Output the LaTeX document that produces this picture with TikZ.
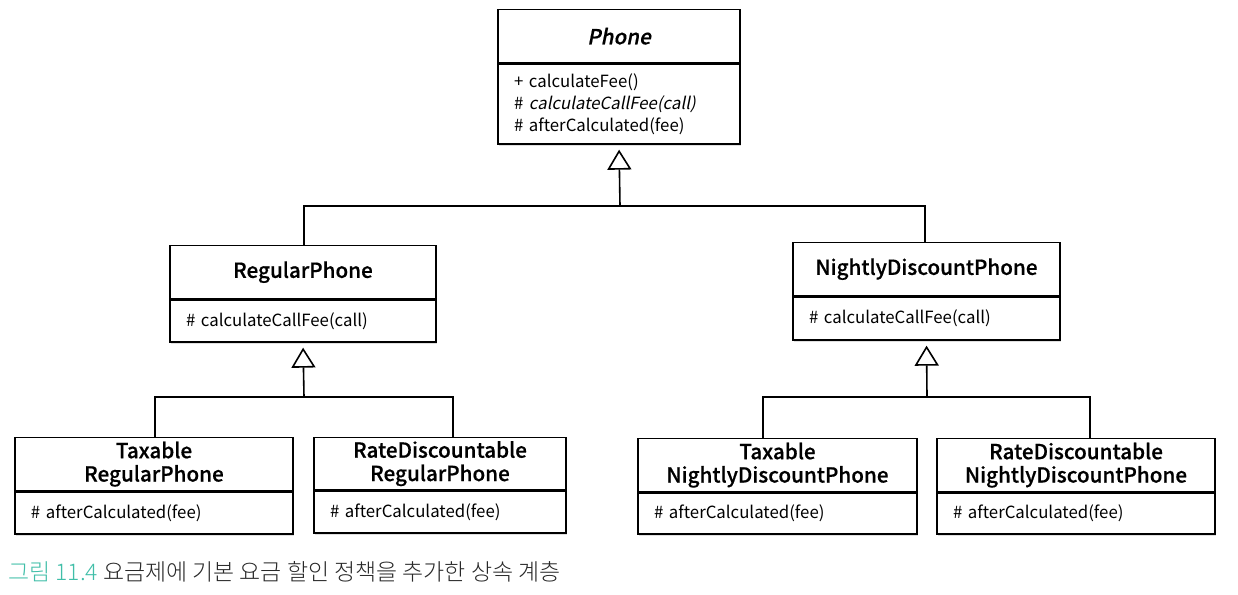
\documentclass[tikz,border=0pt]{standalone}
\usepackage{fontspec}
\setmainfont{Noto Sans CJK KR}[BoldFont={Noto Sans CJK KR Medium}, BoldFeatures={FakeBold=0.6}, ItalicFont={Noto Sans CJK KR}, ItalicFeatures={FakeSlant=0.2}, BoldItalicFont={Noto Sans CJK KR Medium}, BoldItalicFeatures={FakeSlant=0.2, FakeBold=0.6}]
\newfontfamily\capfont{Noto Sans CJK KR Light}
\usetikzlibrary{arrows.meta,shadows}
\definecolor{capteal}{RGB}{64,190,168}
\definecolor{captext}{RGB}{40,40,40}
\tikzset{
  clsbox/.style={draw=black, line width=1pt, fill=white, inner sep=0pt,
    drop shadow={shadow xshift=0.6pt, shadow yshift=-1.4pt, opacity=0.25}},
  clstitle/.style={clsbox, align=center, font=\fontsize{15.5}{17.5}\selectfont\bfseries},
  clsbody/.style={clsbox, align=left, font=\fontsize{12.6}{16.5}\selectfont, inner xsep=12pt},
  inhline/.style={line width=1.2pt, draw=black},
  inharrow/.style={inhline, -{Triangle[open, width=18pt, length=15pt, line width=1.2pt]}, shorten >=3.75pt},
}
% \umlcls{name}{cx}{top y}{width pt}{title h pt}{body h pt}{title}{body}
\newcommand{\umlcls}[8]{%
  \node[clstitle, minimum width=#4, minimum height=#5, anchor=north] (#1) at (#2,#3) {#7};
  \node[clsbody, minimum width=#4, minimum height=#6, text width=#4-24pt, anchor=north] (#1B) at (#1.south) {#8};
}
\begin{document}
\begin{tikzpicture}[x=0.75pt,y=-0.75pt]
\useasboundingbox (0,0) rectangle (1238,594);
\umlcls{phone}{619}{9}{181.5pt}{39.75pt}{60pt}{\itshape Phone}{+ calculateFee()\\\# \textit{calculateCallFee(call)}\\\# afterCalculated(fee)}
\umlcls{reg}{303}{245}{199.5pt}{39.75pt}{31.5pt}{RegularPhone}{\# calculateCallFee(call)}
\umlcls{night}{926.5}{242}{200.25pt}{39.75pt}{32.25pt}{NightlyDiscountPhone}{\# calculateCallFee(call)}
\umlcls{taxreg}{154}{437}{208.5pt}{39.75pt}{31.5pt}{Taxable\\RegularPhone}{\# afterCalculated(fee)}
\umlcls{ratereg}{440}{437}{189pt}{39pt}{31.5pt}{RateDiscountable\\RegularPhone}{\# afterCalculated(fee)}
\umlcls{taxnight}{777.5}{438}{209.25pt}{39.75pt}{30.75pt}{Taxable\\NightlyDiscountPhone}{\# afterCalculated(fee)}
\umlcls{ratenight}{1076}{438}{208.5pt}{39.75pt}{30.75pt}{RateDiscountable\\NightlyDiscountPhone}{\# afterCalculated(fee)}

\coordinate (j1) at (620,206);
\coordinate (j2) at (304,397);
\coordinate (j3) at (927,397);
\coordinate (regin) at (304,245);
\coordinate (nightin) at (925,242);
\coordinate (taxregin) at (155,437);
\coordinate (rateregin) at (453,437);
\coordinate (taxnightin) at (763,438);
\coordinate (ratenightin) at (1090,438);
\draw[inharrow] (j1) -- (phoneB.south);
\draw[inhline] (regin) |- (j1) -| (nightin);
\draw[inharrow] (j2) -- (regB.south);
\draw[inhline] (taxregin) |- (j2) -| (rateregin);
\draw[inharrow] (j3) -- (nightB.south);
\draw[inhline] (taxnightin) |- (j3) -| (ratenightin);

\node[anchor=west, inner sep=0pt, font=\capfont\fontsize{17.2}{20}\selectfont] (cap) at (8,572)
  {\textcolor{capteal}{그림 11.4} \textcolor{captext}{요금제에 기본 요금 할인 정책을 추가한 상속 계층}};
\end{tikzpicture}
\end{document}
